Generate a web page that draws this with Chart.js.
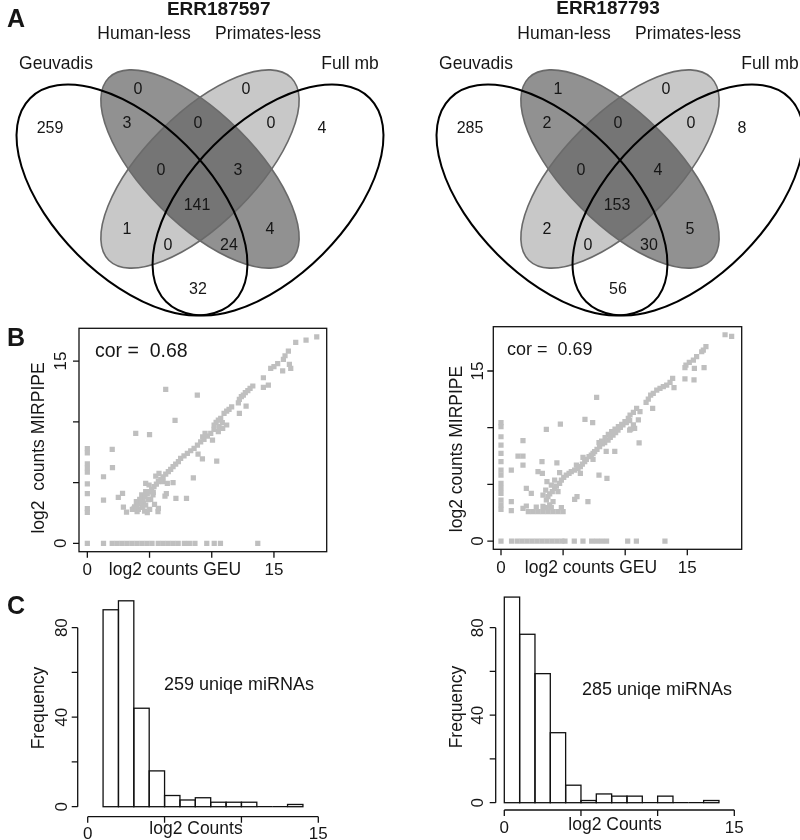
<!DOCTYPE html>
<html>
<head>
<meta charset="utf-8">
<script src="https://cdn.jsdelivr.net/npm/chart.js@4.4.1/dist/chart.umd.min.js"></script>
<style>
html, body { margin: 0; padding: 0; background: #fff; }
#fig { position: relative; width: 800px; height: 840px; overflow: hidden; background: #fff; }
#fig canvas { position: absolute; }
</style>
</head>
<body>
<div id="fig">
  <canvas id="vennA" width="400" height="320" style="left:0;top:0"></canvas>
  <canvas id="vennB" width="400" height="320" style="left:400px;top:0"></canvas>
  <canvas id="scatA" width="400" height="260" style="left:0;top:320px"></canvas>
  <canvas id="scatB" width="400" height="260" style="left:400px;top:320px"></canvas>
  <canvas id="histA" width="400" height="260" style="left:0;top:580px"></canvas>
  <canvas id="histB" width="400" height="260" style="left:400px;top:580px"></canvas>
</div>
<script>
// ---- data ----
const vennTitles = ['ERR187597', 'ERR187793'];
const setNames = ['Geuvadis', 'Human-less', 'Primates-less', 'Full mb'];
// regions: G, G&H, H, H&P, P, P&F, F, G&H&P, H&P&F, all, G&P, H&F, G&P&F, G&H&F, G&F
const countsA = [259, 3, 0, 0, 0, 0, 4, 0, 3, 141, 1, 4, 0, 24, 32];
const countsB = [285, 2, 1, 0, 0, 0, 8, 0, 4, 153, 2, 5, 0, 30, 56];

const corValues = [0.68, 0.69];

// [log2 counts GEU, log2 counts MIRPIPE]
const scatterA = [
  [0,7.8],[0,7.45],[0,6.55],[0,6.2],[0,5.85],[0,4.9],[0,4.1],[0,2.85],[0,2.55],[0,0],
  [1.3,0],[2.0,0],[2.4,0],[2.8,0],[3.2,0],[3.6,0],[4.0,0],[4.4,0],[4.8,0],[5.2,0],[5.7,0],[6.1,0],
  [6.5,0],[6.9,0],[7.3,0],[7.8,0],[8.2,0],[8.65,0],[9.6,0],[10.2,0],[10.7,0],[13.7,0],
  [6.3,12.67],[8.84,12.2],[7.05,10.12],[3.89,9.05],[5.0,8.95],[2.0,7.74],[2.02,6.23],[1.3,5.48],
  [1.3,3.56],[2.49,3.79],[2.83,4.11],[2.9,2.98],[3.15,2.57],[7.12,3.7],[7.97,3.7],[8.52,5.38],
  [8.9,7.35],[9.25,6.95],[10.4,6.77],[10.06,8.5],
  [5.76,5.76],[6.09,5.07],[6.43,4.94],[6.89,5.0],[6.35,4.1],[6.24,3.89],[5.71,2.88],[5.68,2.6],
  [5.01,2.8],[4.82,2.52],[4.69,3.15],[4.42,2.96],[4.1,2.8],[3.62,2.8],[5.09,3.62],[5.28,3.98],
  [4.69,4.25],[4.37,3.98],[4.21,3.62],[3.94,3.43],[4.96,4.8],[4.69,4.94],[5.5,5.54],
  [4.5,3.3],[4.9,3.6],[5.3,4.2],[3.8,3.0],[4.0,2.6],[4.6,2.65],[5.4,3.2],
  [3.75,2.88],[3.94,3.07],[4.1,3.23],[4.29,3.43],[4.47,3.62],[4.64,3.84],[4.82,4.06],[4.96,4.25],
  [5.17,4.44],[5.36,4.66],[5.55,4.88],[5.71,5.07],[5.9,5.27],[6.09,5.48],[6.3,5.7],[6.51,5.9],
  [6.7,6.09],[6.89,6.31],[7.1,6.52],[7.32,6.72],[7.5,7.0],[7.77,7.19],[8.04,7.4],[8.31,7.62],
  [8.58,7.81],[8.85,8.09],[9.11,8.36],[9.38,8.56],[9.65,8.83],[9.92,9.05],[10.18,9.38],[10.59,9.6],
  [10.85,9.93],
  [9.27,8.77],[9.46,9.05],[10.19,9.74],[10.35,9.96],[10.53,10.15],[10.72,10.29],[10.99,10.7],
  [11.2,10.89],[11.39,11.03],[11.6,11.24],[10.88,9.46],[10.53,9.19],[11.2,9.74],[12.14,11.57],
  [12.22,11.85],[12.38,12.07],[12.54,12.2],[12.7,12.4],[12.9,12.56],[13.08,12.76],[13.3,12.95],
  [12.76,11.3],[12.22,10.7],[14.15,13.63],[14.15,12.84],[14.55,13.03],[14.74,14.4],[15.0,14.54],
  [15.3,14.8],[15.76,15.14],[15.89,15.44],[16.16,15.83],[16.24,14.73],[16.35,14.4],[15.7,14.2],
  [16.75,16.54],[17.58,16.73],[18.44,17.0]
];

const scatterB = [
  [0,10.44],[0,10.09],[0,9.2],[0,8.47],[0,7.74],[0,7.0],[0,6.26],[0,5.82],[0,5.09],[0,4.65],
  [0,4.2],[0,3.62],[0,3.18],[0,2.79],[0,0],
  [0.85,0],[1.3,0],[1.7,0],[2.1,0],[2.5,0],[2.9,0],[3.3,0],[3.7,0],[4.1,0],[4.5,0],[4.9,0],
  [5.15,0],[5.9,0],[6.6,0],[7.3,0],[7.7,0],[8.1,0],[8.5,0],[10.2,0],[10.9,0],[13.2,0],
  [3.65,9.85],[4.78,10.32],[1.77,8.85],[1.37,7.5],[1.77,7.5],[0.83,6.26],[1.77,6.7],[3.3,7.0],
  [4.5,6.9],[2.98,6.12],[3.33,5.97],[4.72,6.03],[3.7,5.24],[4.32,5.38],[2.04,4.65],[2.44,4.2],
  [0.83,3.47],[0.83,2.68],[1.77,2.88],[2.04,3.09],[7.7,12.68],[6.76,10.74],[7.38,10.44],
  [2.2,2.59],[2.6,2.59],[3.0,2.59],[3.4,2.59],[3.8,2.59],[4.2,2.59],[4.6,2.59],[5.0,2.59],
  [2.84,3.0],[3.38,3.05],[3.65,2.95],[4.05,2.95],[4.86,2.95],
  [3.65,3.62],[3.78,3.91],[3.92,4.15],[4.13,4.35],[4.32,4.65],[4.46,4.85],[4.72,5.09],[4.86,5.38],
  [5.05,5.62],[5.26,5.82],[5.48,5.97],[5.66,6.12],[5.93,6.26],[6.2,6.41],[6.39,6.56],[6.55,6.79],
  [6.74,7.0],[6.87,7.21],[7.09,7.44],[7.27,7.59],[7.41,7.74],[7.54,7.88],[7.73,8.09],[7.94,8.32],
  [8.16,8.56],[8.35,8.68],[8.62,8.91],[8.8,9.15],[9.02,9.35],[9.23,9.56],[9.42,9.79],[9.61,10.03],
  [9.82,10.24],[10.09,10.44],[10.36,10.62],
  [3.38,4.06],[3.6,4.5],[4.05,4.94],[4.59,4.35],[4.19,3.47],[3.92,3.18],[6.39,5.97],[6.07,6.7],
  [6.6,7.38],[7.41,7.21],[7.89,8.68],
  [5.93,3.68],[6.12,3.91],[7.0,3.47],[7.89,5.82],[8.53,5.53],[8.47,7.9],[9.16,7.9],[10.36,9.79],
  [10.76,9.94],[11.12,8.65],
  [18.04,18.2],[18.57,18.05],[16.5,17.15],[16.29,16.85],[16.16,16.7],[15.75,16.26],[15.49,15.97],
  [15.16,15.76],[14.89,15.53],[14.81,15.29],[15.57,15.24],[16.35,15.29],[14.81,14.3],[15.54,14.21],
  [13.82,14.35],[13.61,14.0],[13.34,13.76],[13.07,13.62],[12.8,13.47],[12.54,13.32],[12.26,13.03],
  [12.05,12.88],[11.86,12.53],[11.68,12.24],[13.93,13.53],[12.21,11.71],[10.92,11.71],[10.66,11.35],
  [10.39,11.12],[10.25,10.82],[9.98,10.53],[9.72,10.29],[9.45,10.09],[9.18,9.88],[8.91,9.65],
  [8.64,9.41],[8.38,9.12],[8.1,8.82],[11.19,11.41],[11.06,10.68],[10.66,10.24],[10.44,9.88]
];
const scatterTicks = [0, 5, 10, 15];
const scatterTickLabels = ['0', '', '', '15'];

// histograms, bins of width 1
const histA = [88, 92, 44, 16, 5, 3, 4, 2, 2, 2, 0, 0, 1];
const histStartA = 1;
const histB = [94, 77, 59, 32, 8, 1, 4, 3, 3, 0, 3, 0, 0, 1];
const histStartB = 0;
const histXTicks = [0, 5, 10, 15];
const histXTickLabels = ['0', '', '', '15'];
const histYTicks = [0, 20, 40, 60, 80];
const histYTickLabels = ['0', '', '40', '', '80'];

// ---- venn layout (relative to the centre of the diagram) ----
const ellCx = [-68, 0, 0, 68];
const ellCy = [31, 0, 0, 31];
const ellA = [144, 129, 129, 144];
const ellB = [77, 55, 55, 77];
const ellRot = [45, 45, -45, -45];
const ellFill = [null, 'rgba(35,35,35,0.5)', 'rgba(145,145,145,0.5)', null];
const regionX = [-150, -73, -62, -2, 46, 71, 122, -39, 38, -3, -73, 70, -32, 29, -2];
const regionY = [-40, -45, -79, -45, -79, -45, -40, 2, 2, 37, 61, 61, 77, 77, 121];
const nameX = [-144, -56, 68, 150];
const nameY = [-105, -135, -135, -105];

const FONT = '"Liberation Sans", Arial, Helvetica, sans-serif';

function txt(ctx, s, x, y, o = {}) {
  ctx.save();
  ctx.font = (o.bold ? 'bold ' : '') + (o.size || 17) + 'px ' + FONT;
  ctx.fillStyle = '#161616';
  ctx.textAlign = o.align || 'center';
  ctx.textBaseline = o.base || 'middle';
  ctx.translate(x, y);
  if (o.rot) ctx.rotate(o.rot);
  ctx.fillText(s, 0, 0);
  ctx.restore();
}

const baseOpts = {
  responsive: false,
  animation: false,
  events: [],
  plugins: { legend: { display: false }, tooltip: { enabled: false } }
};

function vennPlugin(counts, title, titlePos, letter) {
  return {
    id: 'venn',
    beforeDatasetsDraw(chart) {
      const { ctx, scales: { x, y } } = chart;
      const k = x.getPixelForValue(1) - x.getPixelForValue(0);
      const path = i => {
        ctx.beginPath();
        ctx.ellipse(x.getPixelForValue(ellCx[i]), y.getPixelForValue(ellCy[i]),
          ellA[i] * k, ellB[i] * k, ellRot[i] * Math.PI / 180, 0, Math.PI * 2);
      };
      ctx.save();
      [2, 1].forEach(i => { path(i); ctx.fillStyle = ellFill[i]; ctx.fill(); });
      ctx.lineWidth = 1.6;
      ctx.strokeStyle = '#6a6a6a';
      [2, 1].forEach(i => { path(i); ctx.stroke(); });
      ctx.lineWidth = 2;
      ctx.strokeStyle = '#000';
      [0, 3].forEach(i => { path(i); ctx.stroke(); });
      ctx.restore();
    },
    afterDatasetsDraw(chart) {
      const { ctx, scales: { x, y } } = chart;
      chart.getDatasetMeta(0).data.forEach((p, i) => txt(ctx, String(counts[i]), p.x, p.y, { size: 16 }));
      setNames.forEach((s, i) => txt(ctx, s, x.getPixelForValue(nameX[i]), y.getPixelForValue(nameY[i]), { size: 17.5 }));
      txt(ctx, title, x.getPixelForValue(titlePos[0]), y.getPixelForValue(titlePos[1]), { size: 19, bold: true });
      if (letter) txt(ctx, letter, 7, 26.5, { size: 25, bold: true, align: 'left', base: 'alphabetic' });
    }
  };
}

function vennChart(id, counts, title, xmin, titlePos, letter) {
  return new Chart(document.getElementById(id), {
    type: 'scatter',
    data: { datasets: [{ data: counts.map((c, i) => ({ x: regionX[i], y: regionY[i] })), pointRadius: 0, clip: false }] },
    options: {
      ...baseOpts,
      layout: { padding: 0 },
      scales: {
        x: { display: false, min: xmin, max: xmin + 400 },
        y: { display: false, min: -169, max: 151, reverse: true }
      }
    },
    plugins: [vennPlugin(counts, title, titlePos, letter)]
  });
}

function scatterPlugin(d) {
  return {
    id: 'sdeco',
    afterDraw(chart) {
      const { ctx, chartArea: a, scales: { x, y } } = chart;
      ctx.save();
      ctx.strokeStyle = '#111';
      ctx.lineWidth = 1.3;
      ctx.strokeRect(a.left, a.top, a.right - a.left, a.bottom - a.top);
      ctx.beginPath();
      scatterTicks.forEach(t => {
        const px = x.getPixelForValue(t);
        ctx.moveTo(px, a.bottom); ctx.lineTo(px, a.bottom + 6);
        const py = y.getPixelForValue(t);
        ctx.moveTo(a.left, py); ctx.lineTo(a.left - 6, py);
      });
      ctx.stroke();
      ctx.restore();
      scatterTicks.forEach((t, i) => {
        if (!scatterTickLabels[i]) return;
        txt(ctx, scatterTickLabels[i], x.getPixelForValue(t), d.xLabBase, { size: 17, base: 'alphabetic' });
        txt(ctx, scatterTickLabels[i], d.yLabX, y.getPixelForValue(t), { size: 17, rot: -Math.PI / 2 });
      });
      txt(ctx, 'log2 counts GEU', d.xTitleX, d.xLabBase, { size: 17.5, base: 'alphabetic' });
      txt(ctx, d.yTitle, d.yTitleX, d.yTitleY, { size: 17.5, rot: -Math.PI / 2 });
      txt(ctx, 'cor =  ' + d.cor.toFixed(2), d.corX, d.corY, { size: d.corSize, align: 'left' });
      if (d.letter) txt(ctx, d.letter, 7, 26, { size: 25, bold: true, align: 'left', base: 'alphabetic' });
    }
  };
}

function scatterChart(id, pts, padding, xr, yr, d) {
  return new Chart(document.getElementById(id), {
    type: 'scatter',
    data: {
      datasets: [{
        data: pts.map(p => ({ x: p[0], y: p[1] })),
        pointStyle: 'rect',
        pointRadius: 3.7,
        backgroundColor: '#bfbfbf',
        borderWidth: 0
      }]
    },
    options: {
      ...baseOpts,
      layout: { padding },
      scales: {
        x: { type: 'linear', display: false, min: xr[0], max: xr[1] },
        y: { type: 'linear', display: false, min: yr[0], max: yr[1] }
      }
    },
    plugins: [scatterPlugin(d)]
  });
}

function histPlugin(d, total) {
  return {
    id: 'hdeco',
    afterDatasetsDraw(chart) {
      const { ctx, chartArea: a, scales: { x, y } } = chart;
      ctx.save();
      ctx.strokeStyle = '#111';
      ctx.lineWidth = 1.3;
      chart.getDatasetMeta(0).data.forEach(el => {
        const p = el.getProps(['x', 'y', 'base', 'width'], true);
        ctx.strokeRect(p.x - p.width / 2, p.y, p.width, p.base - p.y);
      });
      const ay = a.bottom + d.xGap, ax = a.left - d.yGap;
      ctx.beginPath();
      ctx.moveTo(x.getPixelForValue(histXTicks[0]), ay);
      ctx.lineTo(x.getPixelForValue(histXTicks[histXTicks.length - 1]), ay);
      histXTicks.forEach(t => { const p = x.getPixelForValue(t); ctx.moveTo(p, ay); ctx.lineTo(p, ay + 6); });
      ctx.moveTo(ax, y.getPixelForValue(histYTicks[0]));
      ctx.lineTo(ax, y.getPixelForValue(histYTicks[histYTicks.length - 1]));
      histYTicks.forEach(t => { const p = y.getPixelForValue(t); ctx.moveTo(ax, p); ctx.lineTo(ax - 6, p); });
      ctx.stroke();
      ctx.restore();
      histXTicks.forEach((t, i) => {
        if (histXTickLabels[i]) txt(ctx, histXTickLabels[i], x.getPixelForValue(t), d.xLabBase, { size: 17, base: 'alphabetic' });
      });
      histYTicks.forEach((t, i) => {
        if (histYTickLabels[i]) txt(ctx, histYTickLabels[i], d.yLabX, y.getPixelForValue(t), { size: 17, rot: -Math.PI / 2 });
      });
      txt(ctx, 'log2 Counts', d.xTitleX, d.xTitleBase, { size: 17.5, base: 'alphabetic' });
      txt(ctx, 'Frequency', d.yTitleX, d.yTitleY, { size: 17.5, rot: -Math.PI / 2 });
      txt(ctx, total + ' uniqe miRNAs', d.noteX, d.noteY, { size: 18 });
      if (d.letter) txt(ctx, d.letter, 7, 34, { size: 25, bold: true, align: 'left', base: 'alphabetic' });
    }
  };
}

function histChart(id, counts, start, padding, d) {
  const total = counts.reduce((s, v) => s + v, 0);
  return new Chart(document.getElementById(id), {
    type: 'bar',
    data: {
      datasets: [{
        data: counts.map((v, i) => ({ x: start + i + 0.5, y: v })),
        backgroundColor: '#fff',
        borderWidth: 0,
        barPercentage: 1,
        categoryPercentage: 1
      }]
    },
    options: {
      ...baseOpts,
      layout: { padding },
      scales: {
        x: { type: 'linear', display: false, min: 0, max: 15, offset: false },
        y: { type: 'linear', display: false, min: 0, max: 95 }
      }
    },
    plugins: [histPlugin(d, total)]
  });
}

vennChart('vennA', countsA, vennTitles[0], -200, [18.7, -159], 'A');
vennChart('vennB', countsB, vennTitles[1], -220, [-12, -160.5], null);

scatterChart('scatA', scatterA, { left: 79, right: 73.3, top: 8.3, bottom: 28.3 }, [-0.67, 19.24], [-0.69, 17.7], {
  xLabBase: 255, yLabX: 61, xTitleX: 175, yTitle: 'log2  counts MIRPIPE', yTitleX: 39, yTitleY: 128,
  cor: corValues[0], corX: 95, corY: 31.7, corSize: 19.5, letter: 'B'
});
scatterChart('scatB', scatterB, { left: 93.3, right: 58.3, top: 6.7, bottom: 30.7 }, [-0.62, 19.38], [-0.73, 18.91], {
  xLabBase: 252.7, yLabX: 78, xTitleX: 191, yTitle: 'log2 counts MIRPIPE', yTitleX: 57, yTitleY: 129,
  cor: corValues[1], corX: 107, corY: 30, corSize: 18, letter: null
});

histChart('histA', histA, histStartA, { left: 87.7, right: 81.7, top: 14.1, bottom: 33.3 }, {
  xGap: 10, yGap: 10, xLabBase: 259, xTitleX: 196, xTitleBase: 254, yLabX: 62, yTitleX: 39, yTitleY: 128,
  noteX: 239, noteY: 105, letter: 'C'
});
histChart('histB', histB, histStartB, { left: 104.3, right: 65.7, top: 14.9, bottom: 37.3 }, {
  xGap: 7.3, yGap: 8.6, xLabBase: 253, xTitleX: 215, xTitleBase: 250, yLabX: 78, yTitleX: 57, yTitleY: 127,
  noteX: 257, noteY: 110, letter: null
});
</script>
</body>
</html>
